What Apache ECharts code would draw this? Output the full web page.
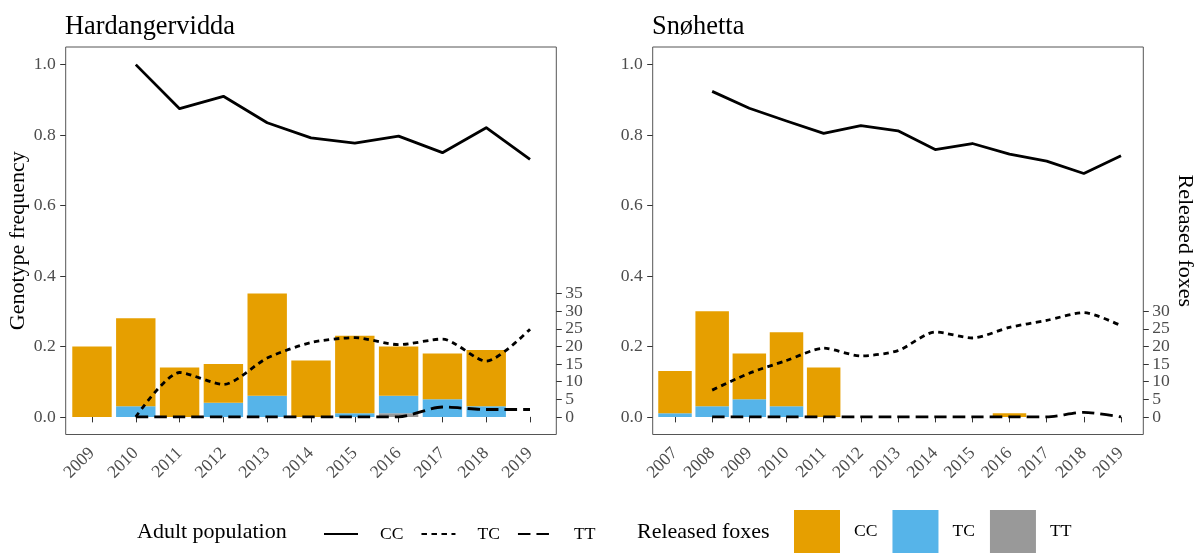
<!DOCTYPE html>
<html>
<head>
<meta charset="utf-8">
<title>Genotype frequency and released foxes</title>
<script src="https://cdn.jsdelivr.net/npm/echarts@6/dist/echarts.min.js"></script>
<style>
  html, body { margin: 0; padding: 0; background: #ffffff; }
  #chart { width: 1199px; height: 554px; }
</style>
</head>
<body>
<div id="chart"></div>
<script>
// Hardangervidda
const hYears = [2009, 2010, 2011, 2012, 2013, 2014, 2015, 2016, 2017, 2018, 2019];
const hAdultCC = [null, 1.000, 0.875, 0.910, 0.835, 0.792, 0.777, 0.797, 0.750, 0.821, 0.731];
const hAdultTC = [null, 0.000, 0.126, 0.092, 0.167, 0.211, 0.225, 0.205, 0.221, 0.158, 0.249];
const hAdultTT = [null, 0.000, 0.000, 0.000, 0.000, 0.000, 0.000, 0.000, 0.028, 0.021, 0.021];
const hReleasedCC = [20, 25, 14, 11, 29, 16, 22, 14, 13, 16, 0];
const hReleasedTC = [0, 3, 0, 4, 6, 0, 1, 5, 5, 3, 0];
const hReleasedTT = [0, 0, 0, 0, 0, 0, 0, 1, 0, 0, 0];

// Snøhetta
const sYears = [2007, 2008, 2009, 2010, 2011, 2012, 2013, 2014, 2015, 2016, 2017, 2018, 2019];
const sAdultCC = [null, 0.924, 0.876, 0.840, 0.805, 0.827, 0.812, 0.759, 0.776, 0.746, 0.726, 0.691, 0.741];
const sAdultTC = [null, 0.076, 0.124, 0.160, 0.195, 0.173, 0.188, 0.241, 0.224, 0.254, 0.274, 0.296, 0.259];
const sAdultTT = [null, 0.000, 0.000, 0.000, 0.000, 0.000, 0.000, 0.000, 0.000, 0.000, 0.000, 0.013, 0.000];
const sReleasedCC = [12, 27, 13, 21, 14, 0, 0, 0, 0, 1, 0, 0, 0];
const sReleasedTC = [1, 3, 5, 3, 0, 0, 0, 0, 0, 0, 0, 0, 0];
const sReleasedTT = [0, 0, 0, 0, 0, 0, 0, 0, 0, 0, 0, 0, 0];

// Axis ticks (count ticks are split over two overlaid axes: tens and fives)
const freqTicks = [0, 0.2, 0.4, 0.6, 0.8, 1.0];
const hCountTicksTens = [0, 10, 20, 30];
const hCountTicksFives = [5, 15, 25, 35];
const sCountTicksTens = [0, 10, 20, 30];
const sCountTicksFives = [5, 15, 25];

const FONT = 'Liberation Serif';
const TICK_COL = '#4d4d4d';
const LINE_COL = '#333333';
const COL_CC = '#E69F00';
const COL_TC = '#56B4E9';
const COL_TT = '#999999';

const lineStyles = {
  CC: { type: 'solid', width: 2.8 },
  TC: { type: [5.5, 4.5], width: 2.8 },
  TT: { type: [12.5, 6], width: 2.8 }
};

function lineSeries(key, years, vals, xi, yi) {
  return {
    name: 'Adult ' + key,
    type: 'line',
    xAxisIndex: xi, yAxisIndex: yi,
    data: years.map((y, i) => [y, vals[i]]),
    symbol: 'none',
    smooth: key === 'CC' ? false : 0.25,
    connectNulls: false,
    z: 5,
    lineStyle: Object.assign({ color: '#000000', cap: 'butt', join: 'round' }, lineStyles[key]),
    itemStyle: { color: '#000000' }
  };
}

// Count comes first in each row so that the stack runs along the count (y) axis.
function barSeries(key, color, years, vals, xi, yi, stack, width) {
  return {
    name: 'Released ' + key,
    type: 'bar',
    stack: stack,
    xAxisIndex: xi, yAxisIndex: yi,
    data: years.map((y, i) => [vals[i], y]),
    encode: { x: 1, y: 0 },
    barWidth: width,
    itemStyle: { color: color },
    z: 2
  };
}

function xAxis(gridIndex, min, max, years) {
  return {
    type: 'value', gridIndex: gridIndex, min: min, max: max,
    axisLine: { show: false },
    splitLine: { show: false },
    axisTick: { show: true, length: 5.5, customValues: years, lineStyle: { color: LINE_COL, width: 1 } },
    axisLabel: {
      customValues: years, rotate: 45, margin: 16,
      showMinLabel: true, showMaxLabel: true,
      fontFamily: FONT, fontSize: 17.6, color: TICK_COL,
      formatter: v => String(Math.round(v))
    }
  };
}

function freqAxis(gridIndex, extra) {
  return Object.assign({
    type: 'value', gridIndex: gridIndex, position: 'left', min: -0.05, max: 1.05,
    axisLine: { show: false },
    splitLine: { show: false },
    axisTick: { show: true, length: 5.5, customValues: freqTicks, lineStyle: { color: LINE_COL, width: 1 } },
    axisLabel: {
      customValues: freqTicks, margin: 10,
      showMinLabel: true, showMaxLabel: true,
      fontFamily: FONT, fontSize: 17.6, color: TICK_COL,
      formatter: v => v.toFixed(1)
    }
  }, extra || {});
}

function countAxis(gridIndex, ticks, extra) {
  return Object.assign({
    type: 'value', gridIndex: gridIndex, position: 'right', offset: 0, min: -5, max: 105,
    axisLine: { show: false },
    splitLine: { show: false },
    axisTick: { show: true, length: 5.5, customValues: ticks, lineStyle: { color: LINE_COL, width: 1 } },
    axisLabel: {
      customValues: ticks, margin: 9,
      showMinLabel: true, showMaxLabel: true,
      fontFamily: FONT, fontSize: 17.6, color: TICK_COL,
      formatter: v => String(Math.round(v))
    }
  }, extra || {});
}

const chart = echarts.init(document.getElementById('chart'), null, { renderer: 'canvas' });

const option = {
  animation: false,
  backgroundColor: '#ffffff',
  title: [
    { text: 'Hardangervidda', left: 65, top: 14, padding: 0,
      textStyle: { fontFamily: FONT, fontSize: 26.4, fontWeight: 'normal', color: '#000' } },
    { text: 'Snøhetta', left: 652, top: 14, padding: 0,
      textStyle: { fontFamily: FONT, fontSize: 26.4, fontWeight: 'normal', color: '#000' } },
    { text: 'Adult population', left: 137, top: 521, padding: 0,
      textStyle: { fontFamily: FONT, fontSize: 22, fontWeight: 'normal', color: '#000' } },
    { text: 'Released foxes', left: 637, top: 521, padding: 0,
      textStyle: { fontFamily: FONT, fontSize: 22, fontWeight: 'normal', color: '#000' } }
  ],
  legend: [
    {
      data: ['Adult CC', 'Adult TC', 'Adult TT'],
      left: 323, top: 525, padding: 0,
      orient: 'horizontal', itemWidth: 34, itemHeight: 14, itemGap: 17,
      selectedMode: false,
      itemStyle: { opacity: 0 },
      formatter: n => n.replace('Adult ', ''),
      textStyle: { fontFamily: FONT, fontSize: 17.6, color: '#000', padding: [0, 0, 0, 17] }
    },
    {
      data: ['Released CC', 'Released TC', 'Released TT'],
      left: 794, top: 510, padding: 0,
      orient: 'horizontal', itemWidth: 46, itemHeight: 43, itemGap: 15,
      icon: 'rect', selectedMode: false,
      formatter: n => n.replace('Released ', ''),
      textStyle: { fontFamily: FONT, fontSize: 17.6, color: '#000', padding: [0, 0, 0, 9] }
    }
  ],
  grid: [
    { left: 65.7, top: 47, width: 490.6, height: 387.5, show: true,
      borderColor: '#555555', borderWidth: 1, backgroundColor: 'transparent', containLabel: false },
    { left: 652.7, top: 47, width: 490.6, height: 387.5, show: true,
      borderColor: '#555555', borderWidth: 1, backgroundColor: 'transparent', containLabel: false }
  ],
  xAxis: [
    xAxis(0, 2008.4, 2019.6, hYears),
    xAxis(1, 2006.4, 2019.6, sYears)
  ],
  yAxis: [
    freqAxis(0, {
      name: 'Genotype frequency', nameLocation: 'middle', nameRotate: 90, nameGap: 36,
      nameTextStyle: { fontFamily: FONT, fontSize: 22, color: '#000' }
    }),
    countAxis(0, hCountTicksTens),
    freqAxis(1),
    countAxis(1, sCountTicksTens, {
      name: 'Released foxes', nameLocation: 'middle', nameRotate: -90, nameGap: 29,
      nameTextStyle: { fontFamily: FONT, fontSize: 22, color: '#000' }
    }),
    countAxis(0, hCountTicksFives),
    countAxis(1, sCountTicksFives)
  ],
  series: [
    // released foxes, stacked TT (bottom), TC, CC (top)
    barSeries('TT', COL_TT, hYears, hReleasedTT, 0, 1, 'relH', 39.4),
    barSeries('TC', COL_TC, hYears, hReleasedTC, 0, 1, 'relH', 39.4),
    barSeries('CC', COL_CC, hYears, hReleasedCC, 0, 1, 'relH', 39.4),
    barSeries('TT', COL_TT, sYears, sReleasedTT, 1, 3, 'relS', 33.5),
    barSeries('TC', COL_TC, sYears, sReleasedTC, 1, 3, 'relS', 33.5),
    barSeries('CC', COL_CC, sYears, sReleasedCC, 1, 3, 'relS', 33.5),
    // adult population genotype frequencies
    lineSeries('CC', hYears, hAdultCC, 0, 0),
    lineSeries('TC', hYears, hAdultTC, 0, 0),
    lineSeries('TT', hYears, hAdultTT, 0, 0),
    lineSeries('CC', sYears, sAdultCC, 1, 2),
    lineSeries('TC', sYears, sAdultTC, 1, 2),
    lineSeries('TT', sYears, sAdultTT, 1, 2)
  ]
};

chart.setOption(option);
</script>
</body>
</html>
